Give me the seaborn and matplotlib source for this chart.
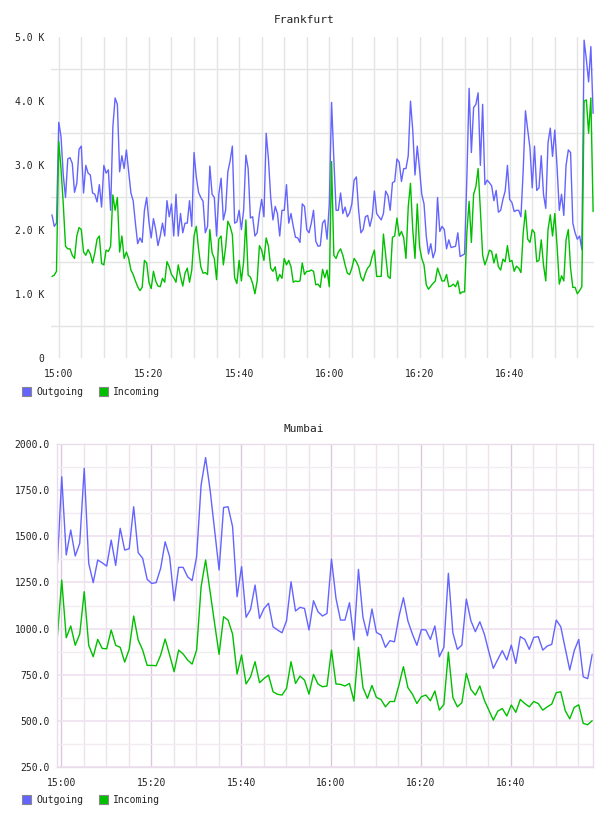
import pandas as pd
import numpy as np
import matplotlib
matplotlib.use("Agg")
import matplotlib.pyplot as plt
import matplotlib.dates as mdates
from matplotlib.patches import Patch
from matplotlib.ticker import FixedLocator, FuncFormatter
import seaborn as sns

# --- data (Frankfurt every 30 s, values in K) ---
fra_start = "2024-01-01 14:58:30"
fra_out = [
    2.23, 2.05, 2.1, 3.67, 3.45, 2.85, 2.5, 3.1, 3.12, 3.03,
    2.58, 2.72, 3.25, 3.3, 2.57, 3.0, 2.88, 2.85, 2.57, 2.55,
    2.43, 2.7, 2.35, 3.0, 2.88, 2.93, 2.3, 3.6, 4.05, 3.95,
    2.9, 3.15, 2.95, 3.24, 2.9, 2.57, 2.45, 2.1, 1.78, 1.87,
    1.8, 2.3, 2.5, 2.12, 1.87, 2.17, 2.0, 1.75, 1.9, 2.1,
    1.9, 2.45, 2.2, 2.4, 1.9, 2.55, 1.9, 2.25, 1.95, 2.1,
    2.1, 2.45, 2.05, 3.2, 2.82, 2.58, 2.5, 2.44, 1.95, 2.05,
    2.99, 2.55, 2.5, 1.9, 2.55, 2.8, 2.15, 2.3, 2.9, 3.07,
    3.3, 2.1, 2.12, 2.3, 2.0, 2.3, 3.16, 2.95, 2.18, 2.2,
    1.9, 1.95, 2.25, 2.47, 2.2, 3.5, 3.1, 2.5, 2.15, 2.36,
    2.25, 1.9, 2.3, 2.3, 2.7, 2.1, 2.25, 2.05, 1.88, 1.87,
    1.8, 2.4, 2.36, 2.0, 1.95, 2.1, 2.3, 1.82, 1.74, 1.75,
    2.1, 2.15, 1.85, 2.4, 3.98, 3.1, 2.3, 2.3, 2.57, 2.25,
    2.35, 2.2, 2.26, 2.4, 2.77, 2.82, 2.3, 1.95, 2.0, 2.2,
    2.22, 2.05, 2.2, 2.6, 2.25, 2.2, 2.15, 2.25, 2.6, 2.53,
    2.3, 2.73, 2.75, 3.1, 3.05, 2.75, 2.95, 2.95, 3.15, 4.0,
    3.55, 2.85, 3.3, 2.95, 2.55, 2.4, 1.9, 1.62, 1.78, 1.56,
    1.67, 2.5, 1.97, 2.05, 2.0, 1.7, 1.84, 1.72, 1.73, 1.74,
    1.95, 1.58, 1.6, 1.62, 2.8, 4.2, 3.2, 3.9, 3.95, 4.13,
    3.0, 3.95, 2.7, 2.77, 2.73, 2.68, 2.45, 2.61, 2.27, 2.3,
    2.47, 2.6, 3.0, 2.47, 2.42, 2.28, 2.3, 2.3, 2.2, 2.93,
    3.85, 3.55, 3.27, 2.65, 3.3, 2.61, 2.65, 3.15, 2.55, 2.33,
    3.35, 3.58, 3.14, 3.55, 2.98, 2.3, 2.55, 2.22, 3.0, 3.24,
    3.2, 2.1, 1.95, 1.85, 1.9, 1.69, 4.95, 4.65, 4.3, 4.85, 3.81,
]
fra_in = [
    1.27, 1.29, 1.35, 3.37, 2.95, 2.4, 1.74, 1.7, 1.7, 1.6,
    1.55, 1.9, 2.03, 2.0, 1.65, 1.6, 1.69, 1.62, 1.48, 1.64,
    1.85, 1.9, 1.47, 1.45, 1.68, 1.66, 1.74, 2.54, 2.3, 2.5,
    1.65, 1.9, 1.55, 1.65, 1.55, 1.37, 1.3, 1.2, 1.11, 1.05,
    1.1, 1.52, 1.48, 1.18, 1.08, 1.35, 1.2, 1.12, 1.11, 1.24,
    1.18, 1.5, 1.42, 1.3, 1.25, 1.18, 1.45, 1.27, 1.12, 1.32,
    1.4, 1.18, 1.37, 1.9, 2.05, 1.7, 1.42, 1.32, 1.33, 1.3,
    2.0, 1.64, 1.55, 1.22, 1.85, 1.9, 1.45, 1.72, 2.13, 2.05,
    1.92, 1.25, 1.16, 1.52, 1.2, 1.5, 2.15, 1.29, 1.26, 1.16,
    1.0, 1.2, 1.75, 1.68, 1.52, 1.87, 1.74, 1.4, 1.35, 1.42,
    1.2, 1.3, 1.24, 1.55, 1.45, 1.52, 1.42, 1.18, 1.2, 1.19,
    1.2, 1.48, 1.3, 1.35, 1.35, 1.37, 1.35, 1.14, 1.15, 1.1,
    1.38, 1.25, 1.37, 1.11, 3.06, 1.6, 1.55, 1.65, 1.7, 1.6,
    1.45, 1.32, 1.3, 1.4, 1.55, 1.5, 1.42, 1.26, 1.2, 1.32,
    1.4, 1.44, 1.58, 1.68, 1.27, 1.27, 1.27, 1.93, 1.6, 1.27,
    1.24, 1.88, 1.9, 2.18, 1.9, 1.97, 1.87, 1.55, 2.35, 2.72,
    2.0, 1.55, 2.4, 1.74, 1.55, 1.45, 1.14, 1.07, 1.12, 1.16,
    1.2, 1.4, 1.3, 1.2, 1.2, 1.3, 1.11, 1.12, 1.15, 1.11,
    1.2, 1.0, 1.03, 1.03, 1.95, 2.44, 1.8, 2.55, 2.67, 2.95,
    2.3, 1.6, 1.45, 1.55, 1.68, 1.66, 1.48, 1.62, 1.42, 1.37,
    1.54, 1.5, 1.75, 1.5, 1.52, 1.35, 1.43, 1.4, 1.33, 1.95,
    2.3, 1.85, 1.8, 2.0, 1.95, 1.5, 1.52, 1.84, 1.45, 1.2,
    2.0, 2.23, 1.9, 2.25, 1.75, 1.15, 1.28, 1.2, 1.84, 2.0,
    1.4, 1.1, 1.1, 1.0, 1.05, 1.11, 4.0, 4.02, 3.5, 4.05, 2.28,
]

# --- Mumbai, every minute ---
mum_start = "2024-01-01 14:59:06"
mum_out = [
    1339, 1824, 1399, 1535, 1394, 1462, 1870, 1354, 1249, 1372,
    1357, 1339, 1480, 1343, 1544, 1426, 1433, 1661, 1412, 1381,
    1267, 1245, 1249, 1327, 1471, 1390, 1151, 1332, 1332, 1281,
    1260, 1390, 1779, 1928, 1752, 1535, 1318, 1657, 1661, 1553,
    1173, 1336, 1061, 1104, 1236, 1055, 1109, 1137, 1010, 992,
    977, 1042, 1254, 1095, 1115, 1109, 992, 1151, 1091, 1068,
    1082, 1377, 1164, 1046, 1046, 1140, 938, 1321, 1061, 961,
    1106, 979, 965, 898, 934, 928, 1064, 1167, 1041, 970,
    909, 995, 992, 941, 1014, 847, 898, 1300, 977, 887,
    910, 1160, 1043, 983, 1037, 970, 874, 784, 833, 880,
    829, 910, 811, 956, 941, 887, 952, 956, 883, 905,
    914, 1046, 1010, 892, 775, 880, 941, 738, 728, 860,
]
mum_in = [
    947, 1263, 950, 1014, 909, 970, 1200, 909, 847, 941,
    892, 890, 992, 909, 898, 818, 887, 1068, 938, 883,
    800, 800, 798, 856, 943, 856, 766, 883, 862, 829,
    807, 883, 1227, 1372, 1200, 1028, 860, 1064, 1046, 970,
    753, 856, 699, 738, 820, 706, 729, 747, 657, 643,
    639, 675, 820, 702, 742, 720, 644, 751, 699, 684,
    688, 883, 699, 697, 688, 702, 606, 898, 680, 621,
    691, 626, 615, 575, 604, 604, 693, 793, 679, 644,
    593, 630, 639, 608, 661, 557, 588, 872, 626, 575,
    597, 757, 670, 639, 688, 611, 557, 503, 552, 566,
    525, 585, 545, 615, 593, 575, 604, 593, 557, 575,
    590, 652, 657, 554, 510, 572, 586, 485, 478, 500,
]

series_names = ["Outgoing", "Incoming"]
colors = {"Outgoing": "#6464ff", "Incoming": "#00c000"}


def make_df(start, freq, out_vals, in_vals):
    t = pd.date_range(start, periods=len(out_vals), freq=freq)
    a = pd.DataFrame({"time": t, "value": out_vals, "dir": "Outgoing"})
    b = pd.DataFrame({"time": t, "value": in_vals, "dir": "Incoming"})
    return pd.concat([a, b], ignore_index=True)


df_fra = make_df(fra_start, "30s", fra_out, fra_in)
df_mum = make_df(mum_start, "60s", mum_out, mum_in)

sns.set_style("white")
plt.rcParams["font.family"] = ["DejaVu Sans Mono"]
txt = "#222222"

fig = plt.figure(figsize=(6.08, 8.16), dpi=100)
ax1 = fig.add_axes([0.0839, 0.5613, 0.8931, 0.3934])
ax2 = fig.add_axes([0.0933, 0.0604, 0.8826, 0.3951])

day = "2024-01-01 "

# Frankfurt
sns.lineplot(data=df_fra, x="time", y="value", hue="dir", palette=colors,
             ax=ax1, legend=False, linewidth=1.0)
ax1.set_xlim(pd.Timestamp(day + "14:58:17"), pd.Timestamp(day + "16:58:42"))
ax1.set_ylim(0, 5)
ax1.yaxis.set_major_locator(FixedLocator([0, 1, 2, 3, 4, 5]))
ax1.yaxis.set_minor_locator(FixedLocator([0.5, 1.5, 2.5, 3.5, 4.5]))
ax1.yaxis.set_major_formatter(FuncFormatter(lambda v, p: "0" if v == 0 else f"{v:.1f} K"))
ax1.grid(False)
ax1.grid(which="minor", axis="y", color="#e4e4e4", lw=1.0)
ax1.grid(which="both", axis="x", color="#e4e4e4", lw=1.0)
for s in ax1.spines.values():
    s.set_visible(False)

# Mumbai
sns.lineplot(data=df_mum, x="time", y="value", hue="dir", palette=colors,
             ax=ax2, legend=False, linewidth=1.0)
ax2.set_xlim(pd.Timestamp(day + "14:58:59"), pd.Timestamp(day + "16:58:21"))
ax2.set_ylim(250, 2000)
ax2.yaxis.set_major_locator(FixedLocator(np.arange(250, 2001, 250)))
ax2.yaxis.set_minor_locator(FixedLocator(np.arange(375, 2000, 250)))
ax2.yaxis.set_major_formatter(FuncFormatter(lambda v, p: f"{v:.1f}"))
ax2.grid(False)
ax2.grid(which="major", axis="y", color="#efe0ef", lw=1.2)
ax2.grid(which="minor", axis="y", color="#f3edf3", lw=1.0)
ax2.grid(which="minor", axis="x", color="#ebe4eb", lw=1.0)
ax2.grid(which="major", axis="x", color="#dcc8dc", lw=1.0)
for s in ax2.spines.values():
    s.set_color("#eadcea")
    s.set_linewidth(1.0)

for ax in (ax1, ax2):
    ax.xaxis.set_major_locator(mdates.MinuteLocator(byminute=[0, 20, 40]))
    ax.xaxis.set_minor_locator(mdates.MinuteLocator(byminute=range(0, 60, 5)))
    ax.xaxis.set_major_formatter(mdates.DateFormatter("%H:%M"))
    ax.set_xlabel("")
    ax.set_ylabel("")
    ax.tick_params(which="both", length=0, labelsize=7, colors=txt)
    ax.tick_params(axis="x", pad=8)
    ax.tick_params(axis="y", pad=5)
    ax.set_axisbelow(True)

fig.text(0.5, 1 - 20 / 816, "Frankfurt", ha="center", va="center", fontsize=8, color=txt)
fig.text(0.5, 1 - 429 / 816, "Mumbai", ha="center", va="center", fontsize=8, color=txt)

handles = [Patch(facecolor=colors[n], edgecolor="#888888", lw=0.8, label=n) for n in series_names]
for ypx in (392, 800):
    fig.legend(handles=handles, loc="center left", bbox_to_anchor=(22 / 608, 1 - ypx / 816),
               ncol=2, frameon=False, fontsize=7, handlelength=0.95, handleheight=0.95,
               handletextpad=0.5, columnspacing=1.6, borderpad=0, borderaxespad=0,
               labelcolor=txt)

fig.savefig("out.png", dpi=100)
